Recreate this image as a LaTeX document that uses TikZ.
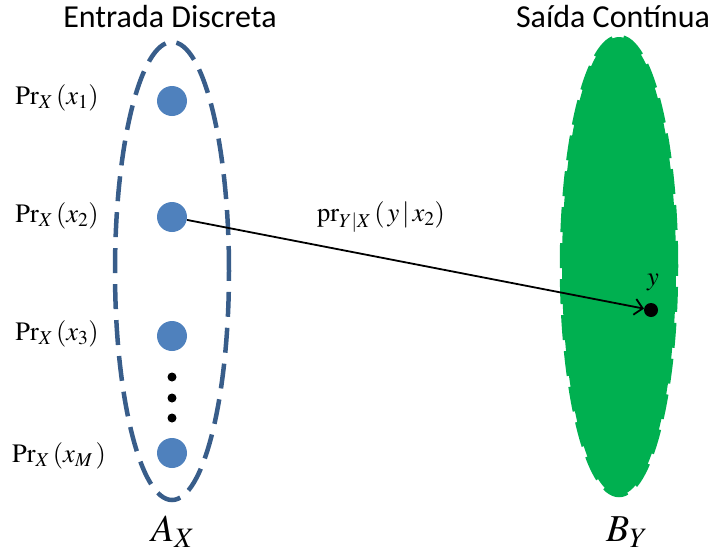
\documentclass[tikz,border=0pt]{standalone}
\usepackage{mathptmx}
\usepackage[no-math]{fontspec}
\newfontfamily\calibri{Carlito}
\usetikzlibrary{shapes.geometric,arrows.meta}
\definecolor{dotblue}{HTML}{4F81BD}
\definecolor{rimblue}{HTML}{385D8A}
\definecolor{fillgreen}{HTML}{00B050}
\begin{document}
\begin{tikzpicture}[x=1pt,y=-1pt,
  blob/.style={circle,fill=dotblue,minimum size=30pt,inner sep=0pt},
  tiny/.style={circle,fill=black,minimum size=9pt,inner sep=0pt},
  rim/.style={ellipse,line width=4.5pt,dash pattern=on 25pt off 11pt,minimum width=114pt,minimum height=458pt,inner sep=0pt},
  lbl/.style={font=\fontsize{26.5}{30}\selectfont,inner sep=0pt},
  ttl/.style={font=\calibri\fontsize{32}{36}\selectfont,inner sep=0pt},
  big/.style={font=\fontsize{38}{42}\selectfont,inner sep=0pt}]
\useasboundingbox (0,0) rectangle (713,555);
\node[rim,draw=rimblue] (AX) at (172,271) {};
\node[rim,draw=fillgreen,fill=fillgreen] (BY) at (619,266) {};
\node[ttl] (t1) at (170,17) {Entrada Discreta};
\node[ttl] (t2) at (613,17) {Saída Contínua};
\node[blob] (d1) at (172,101) {};
\node[blob] (d2) at (172,217) {};
\node[blob] (d3) at (172,336) {};
\node[blob] (d4) at (172,453) {};
\node[tiny] (e1) at (172,377) {};
\node[tiny] (e2) at (172,398) {};
\node[tiny] (e3) at (172,418) {};
\node[lbl] (l1) at (57,98) {$\mathrm{Pr}_X\,(x_1)$};
\node[lbl] (l2) at (57,216) {$\mathrm{Pr}_X\,(x_2)$};
\node[lbl] (l3) at (57,334) {$\mathrm{Pr}_X\,(x_3)$};
\node[lbl] (l4) at (59,456) {$\mathrm{Pr}_X\,(x_M\,)$};
\node[circle,fill=black,minimum size=14pt,inner sep=0pt] (yd) at (651,310) {};
\node[lbl] (yl) at (653,282) {$y$};
\node[lbl] (pl) at (381,217) {$\mathrm{pr}_{Y|X}\,(\,y\,|\,x_2)$};
\node[big] (al) at (173,532) {$A_X$};
\node[big] (bl) at (627,532) {$B_Y$};
\draw[line width=1.8pt,-{Straight Barb[length=8pt,width=16pt]}] (d2) -- (yd);
\end{tikzpicture}
\end{document}
